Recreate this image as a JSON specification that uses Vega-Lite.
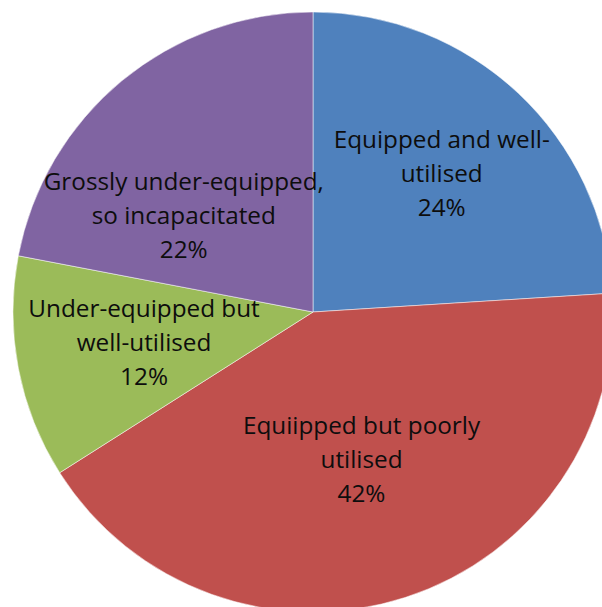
{
  "$schema": "https://vega.github.io/schema/vega-lite/v6.json",
  "width": 600,
  "height": 600,
  "autosize": "none",
  "padding": {"left": 13, "top": 12, "right": 0, "bottom": 0},
  "background": "white",
  "data": {
    "values": [
      {"idx": 1, "category": "Equipped and well-utilised", "pct": 24, "label": "Equipped and well-\nutilised\n24%"},
      {"idx": 2, "category": "Equipped but poorly utilised", "pct": 42, "label": "Equiipped but poorly\nutilised\n42%"},
      {"idx": 3, "category": "Under-equipped but well-utilised", "pct": 12, "label": "Under-equipped but\nwell-utilised\n12%"},
      {"idx": 4, "category": "Grossly under-equipped, so incapacitated", "pct": 22, "label": "Grossly under-equipped,\nso incapacitated\n22%"}
    ]
  },
  "encoding": {
    "theta": {"field": "pct", "type": "quantitative", "stack": true},
    "order": {"field": "idx", "type": "quantitative"}
  },
  "layer": [
    {
      "mark": {"type": "arc", "outerRadius": 300, "stroke": "#ffffff", "strokeWidth": 1, "strokeOpacity": 0.5},
      "encoding": {
        "color": {
          "field": "category",
          "type": "nominal",
          "scale": {
            "domain": ["Equipped and well-utilised", "Equipped but poorly utilised", "Under-equipped but well-utilised", "Grossly under-equipped, so incapacitated"],
            "range": ["#4F81BD", "#C0504D", "#9BBB59", "#8064A2"]
          },
          "legend": null
        }
      }
    },
    {
      "mark": {"type": "text", "radius": 188, "dy": -34, "font": "Open Sans", "fontSize": 24.3, "lineBreak": "\n", "lineHeight": 34, "color": "#0d0d0d", "align": "center", "baseline": "middle"},
      "encoding": {
        "text": {"field": "label", "type": "nominal"},
        "opacity": {"condition": {"test": "datum.idx === 1", "value": 1}, "value": 0}
      }
    },
    {
      "mark": {"type": "text", "radius": 157, "dy": -34, "font": "Open Sans", "fontSize": 24.3, "lineBreak": "\n", "lineHeight": 34, "color": "#0d0d0d", "align": "center", "baseline": "middle"},
      "encoding": {
        "text": {"field": "label", "type": "nominal"},
        "opacity": {"condition": {"test": "datum.idx === 2", "value": 1}, "value": 0}
      }
    },
    {
      "mark": {"type": "text", "radius": 172, "dy": -34, "font": "Open Sans", "fontSize": 24.3, "lineBreak": "\n", "lineHeight": 34, "color": "#0d0d0d", "align": "center", "baseline": "middle"},
      "encoding": {
        "text": {"field": "label", "type": "nominal"},
        "opacity": {"condition": {"test": "datum.idx === 3", "value": 1}, "value": 0}
      }
    },
    {
      "mark": {"type": "text", "radius": 162, "dx": -26, "dy": -4, "font": "Open Sans", "fontSize": 24.3, "lineBreak": "\n", "lineHeight": 34, "color": "#0d0d0d", "align": "center", "baseline": "middle"},
      "encoding": {
        "text": {"field": "label", "type": "nominal"},
        "opacity": {"condition": {"test": "datum.idx === 4", "value": 1}, "value": 0}
      }
    }
  ]
}
